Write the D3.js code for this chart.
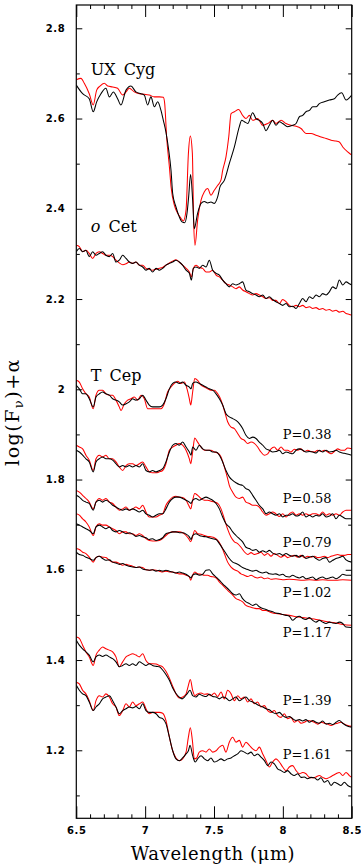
<!DOCTYPE html>
<html><head><meta charset="utf-8">
<script src="https://cdn.jsdelivr.net/npm/d3@7"></script>
<style>body{margin:0;background:#fff}svg{display:block}</style>
</head><body>
<svg id="chart" width="361" height="865"></svg>
<script>
// ---------------- data (wavelength in micron, log(Fnu)+alpha) ----------------
const xMajorTicks = [6.5, 7, 7.5, 8, 8.5];
const xTickLabels = ["6.5", "7", "7.5", "8", "8.5"];
const yMajorTicks = [1.2, 1.4, 1.6, 1.8, 2.0, 2.2, 2.4, 2.6, 2.8];
const yTickLabels = ["1.2", "1.4", "1.6", "1.8", "2", "2.2", "2.4", "2.6", "2.8"];
const starNames = ["UX Cyg", "o Cet", "T Cep"];
const phaseLabels = ["P=0.38", "P=0.58", "P=0.79", "P=1.02", "P=1.17", "P=1.39", "P=1.61"];

const uxCygBlack = [[6.500,2.674],[6.546,2.655],[6.594,2.644],[6.623,2.615],[6.648,2.637],[6.679,2.655],[6.715,2.667],[6.740,2.648],[6.769,2.659],[6.800,2.644],[6.824,2.630],[6.861,2.663],[6.897,2.672],[6.933,2.659],[6.970,2.655],[6.994,2.652],[7.018,2.630],[7.042,2.648],[7.067,2.626],[7.091,2.637],[7.115,2.618],[7.132,2.596],[7.151,2.570],[7.171,2.530],[7.188,2.485],[7.200,2.434],[7.224,2.404],[7.248,2.382],[7.268,2.371],[7.287,2.369],[7.304,2.390],[7.316,2.427],[7.330,2.476],[7.345,2.419],[7.357,2.356],[7.381,2.390],[7.406,2.412],[7.430,2.416],[7.454,2.413],[7.478,2.415],[7.502,2.412],[7.527,2.427],[7.544,2.449],[7.575,2.463],[7.611,2.500],[7.648,2.537],[7.684,2.582],[7.701,2.596],[7.720,2.593],[7.745,2.589],[7.781,2.613],[7.805,2.600],[7.829,2.596],[7.854,2.589],[7.878,2.573],[7.902,2.585],[7.926,2.596],[7.950,2.585],[7.975,2.593],[7.999,2.589],[8.035,2.582],[8.071,2.585],[8.096,2.589],[8.120,2.604],[8.144,2.607],[8.168,2.615],[8.193,2.618],[8.217,2.626],[8.241,2.626],[8.265,2.633],[8.301,2.637],[8.338,2.641],[8.374,2.644],[8.398,2.652],[8.427,2.657],[8.459,2.641],[8.500,2.652]];
const uxCygRed = [[6.500,2.686],[6.534,2.689],[6.558,2.678],[6.594,2.655],[6.623,2.630],[6.648,2.663],[6.672,2.672],[6.703,2.678],[6.728,2.672],[6.764,2.670],[6.800,2.667],[6.837,2.652],[6.861,2.659],[6.885,2.667],[6.921,2.659],[6.958,2.655],[6.994,2.654],[7.030,2.652],[7.067,2.648],[7.103,2.648],[7.132,2.647],[7.142,2.633],[7.156,2.559],[7.176,2.493],[7.188,2.449],[7.212,2.408],[7.236,2.390],[7.260,2.379],[7.277,2.373],[7.297,2.397],[7.314,2.522],[7.328,2.561],[7.343,2.522],[7.352,2.375],[7.362,2.319],[7.381,2.375],[7.406,2.419],[7.430,2.438],[7.454,2.445],[7.478,2.430],[7.502,2.441],[7.527,2.452],[7.551,2.464],[7.563,2.485],[7.587,2.515],[7.607,2.559],[7.624,2.611],[7.648,2.615],[7.679,2.620],[7.708,2.607],[7.732,2.600],[7.757,2.607],[7.781,2.596],[7.817,2.600],[7.854,2.585],[7.890,2.589],[7.926,2.596],[7.950,2.589],[7.987,2.596],[8.023,2.589],[8.059,2.585],[8.096,2.583],[8.132,2.578],[8.168,2.567],[8.205,2.567],[8.241,2.563],[8.277,2.559],[8.314,2.556],[8.350,2.552],[8.386,2.550],[8.410,2.548],[8.435,2.537],[8.471,2.526],[8.500,2.519]];

const oCetBlack = [[6.500,2.305],[6.522,2.312],[6.546,2.305],[6.570,2.308],[6.594,2.294],[6.619,2.305],[6.643,2.297],[6.667,2.301],[6.691,2.305],[6.715,2.297],[6.740,2.294],[6.764,2.301],[6.788,2.282],[6.812,2.286],[6.837,2.297],[6.861,2.290],[6.885,2.282],[6.909,2.279],[6.933,2.282],[6.958,2.275],[6.982,2.271],[7.006,2.264],[7.030,2.268],[7.054,2.260],[7.079,2.268],[7.103,2.264],[7.127,2.268],[7.151,2.275],[7.176,2.279],[7.200,2.282],[7.224,2.286],[7.248,2.282],[7.272,2.275],[7.297,2.264],[7.321,2.257],[7.336,2.242],[7.350,2.268],[7.369,2.271],[7.393,2.268],[7.418,2.275],[7.442,2.271],[7.466,2.286],[7.490,2.264],[7.515,2.257],[7.539,2.253],[7.563,2.242],[7.587,2.234],[7.611,2.227],[7.636,2.234],[7.660,2.231],[7.684,2.234],[7.708,2.238],[7.732,2.220],[7.757,2.216],[7.781,2.212],[7.805,2.209],[7.829,2.205],[7.854,2.209],[7.878,2.201],[7.902,2.205],[7.926,2.199],[7.950,2.194],[7.975,2.190],[7.999,2.186],[8.023,2.190],[8.047,2.183],[8.071,2.184],[8.096,2.179],[8.120,2.190],[8.144,2.201],[8.168,2.194],[8.193,2.205],[8.217,2.201],[8.241,2.209],[8.265,2.205],[8.289,2.212],[8.314,2.209],[8.338,2.216],[8.362,2.227],[8.386,2.223],[8.410,2.242],[8.435,2.231],[8.459,2.238],[8.483,2.234],[8.500,2.231]];
const oCetRed = [[6.500,2.319],[6.522,2.316],[6.546,2.305],[6.570,2.308],[6.594,2.301],[6.619,2.290],[6.643,2.301],[6.667,2.305],[6.691,2.301],[6.715,2.297],[6.740,2.297],[6.764,2.294],[6.788,2.286],[6.812,2.280],[6.837,2.276],[6.861,2.278],[6.885,2.282],[6.909,2.279],[6.933,2.282],[6.958,2.275],[6.982,2.275],[7.006,2.268],[7.030,2.266],[7.054,2.264],[7.079,2.266],[7.103,2.268],[7.127,2.270],[7.151,2.275],[7.176,2.280],[7.200,2.284],[7.224,2.287],[7.248,2.282],[7.272,2.275],[7.297,2.268],[7.321,2.260],[7.336,2.249],[7.350,2.268],[7.369,2.275],[7.393,2.270],[7.418,2.268],[7.442,2.260],[7.466,2.260],[7.490,2.264],[7.515,2.253],[7.539,2.249],[7.563,2.242],[7.587,2.234],[7.611,2.231],[7.636,2.227],[7.660,2.223],[7.684,2.227],[7.708,2.220],[7.732,2.216],[7.757,2.212],[7.781,2.209],[7.805,2.212],[7.829,2.209],[7.854,2.205],[7.878,2.201],[7.902,2.203],[7.926,2.197],[7.950,2.197],[7.975,2.190],[7.999,2.199],[8.023,2.194],[8.047,2.186],[8.071,2.183],[8.096,2.186],[8.120,2.183],[8.144,2.186],[8.168,2.181],[8.193,2.183],[8.217,2.179],[8.241,2.181],[8.265,2.177],[8.289,2.179],[8.314,2.175],[8.338,2.177],[8.362,2.173],[8.386,2.175],[8.410,2.171],[8.435,2.173],[8.459,2.168],[8.483,2.166],[8.500,2.164]];

const tCep038Black = [[6.500,2.009],[6.522,2.001],[6.546,1.990],[6.570,1.990],[6.594,1.979],[6.623,1.961],[6.643,1.983],[6.667,1.990],[6.691,1.994],[6.715,1.990],[6.740,1.987],[6.764,1.979],[6.788,1.976],[6.812,1.972],[6.837,1.965],[6.861,1.968],[6.885,1.972],[6.909,1.979],[6.933,1.976],[6.958,1.979],[6.982,1.987],[7.006,1.976],[7.030,1.965],[7.054,1.961],[7.079,1.961],[7.103,1.961],[7.127,1.965],[7.151,1.979],[7.176,2.001],[7.200,2.013],[7.224,2.016],[7.248,2.013],[7.272,2.016],[7.297,2.009],[7.321,2.005],[7.333,2.001],[7.345,2.013],[7.369,2.016],[7.393,2.013],[7.418,2.009],[7.442,2.005],[7.466,2.001],[7.490,1.998],[7.515,1.990],[7.539,1.979],[7.563,1.965],[7.587,1.946],[7.611,1.939],[7.636,1.935],[7.660,1.931],[7.684,1.924],[7.708,1.913],[7.732,1.898],[7.757,1.891],[7.781,1.894],[7.805,1.891],[7.829,1.883],[7.854,1.876],[7.878,1.868],[7.902,1.865],[7.926,1.861],[7.950,1.862],[7.975,1.865],[7.999,1.857],[8.023,1.861],[8.047,1.859],[8.071,1.857],[8.096,1.865],[8.120,1.868],[8.144,1.865],[8.168,1.861],[8.193,1.862],[8.217,1.861],[8.241,1.859],[8.265,1.865],[8.289,1.861],[8.314,1.865],[8.338,1.861],[8.362,1.862],[8.386,1.865],[8.410,1.861],[8.435,1.859],[8.459,1.857],[8.500,1.854]];
const tCep038Red = [[6.500,2.020],[6.522,2.016],[6.546,2.001],[6.570,1.990],[6.594,1.983],[6.623,1.957],[6.643,1.987],[6.667,1.998],[6.691,1.998],[6.715,1.990],[6.740,1.987],[6.764,1.987],[6.788,1.976],[6.812,1.961],[6.824,1.953],[6.849,1.968],[6.873,1.976],[6.897,1.979],[6.921,1.983],[6.946,1.976],[6.970,1.987],[6.994,1.979],[7.018,1.957],[7.042,1.957],[7.067,1.957],[7.091,1.957],[7.115,1.957],[7.139,1.968],[7.163,1.994],[7.188,2.005],[7.212,2.013],[7.236,2.018],[7.260,2.013],[7.285,2.016],[7.304,2.001],[7.321,1.979],[7.331,1.965],[7.345,1.994],[7.360,2.024],[7.381,2.020],[7.406,2.009],[7.430,2.005],[7.454,2.001],[7.478,1.998],[7.502,1.998],[7.527,1.990],[7.551,1.976],[7.575,1.953],[7.599,1.928],[7.624,1.916],[7.648,1.913],[7.672,1.902],[7.696,1.891],[7.720,1.887],[7.745,1.880],[7.769,1.883],[7.793,1.880],[7.817,1.872],[7.841,1.861],[7.866,1.854],[7.890,1.857],[7.914,1.868],[7.938,1.872],[7.962,1.865],[7.987,1.872],[8.011,1.865],[8.035,1.865],[8.059,1.861],[8.083,1.867],[8.108,1.865],[8.132,1.868],[8.156,1.862],[8.180,1.865],[8.205,1.862],[8.229,1.861],[8.253,1.865],[8.277,1.862],[8.301,1.865],[8.326,1.861],[8.350,1.857],[8.374,1.862],[8.398,1.868],[8.422,1.865],[8.447,1.865],[8.471,1.870],[8.500,1.868]];

const tCep058Black = [[6.500,1.865],[6.522,1.861],[6.546,1.854],[6.570,1.846],[6.594,1.839],[6.623,1.817],[6.643,1.839],[6.667,1.846],[6.691,1.850],[6.715,1.846],[6.740,1.846],[6.764,1.843],[6.788,1.835],[6.812,1.828],[6.837,1.831],[6.861,1.828],[6.885,1.831],[6.909,1.828],[6.933,1.831],[6.958,1.828],[6.982,1.835],[7.006,1.820],[7.030,1.817],[7.054,1.820],[7.079,1.817],[7.103,1.820],[7.127,1.824],[7.151,1.839],[7.176,1.861],[7.200,1.876],[7.224,1.880],[7.248,1.876],[7.272,1.883],[7.297,1.872],[7.321,1.861],[7.333,1.854],[7.345,1.872],[7.369,1.865],[7.393,1.876],[7.418,1.868],[7.442,1.865],[7.466,1.865],[7.490,1.861],[7.515,1.861],[7.539,1.854],[7.563,1.839],[7.587,1.820],[7.611,1.806],[7.636,1.798],[7.660,1.793],[7.684,1.789],[7.708,1.787],[7.732,1.780],[7.757,1.776],[7.781,1.765],[7.805,1.754],[7.829,1.743],[7.854,1.735],[7.878,1.724],[7.902,1.728],[7.926,1.724],[7.950,1.721],[7.975,1.724],[7.999,1.717],[8.023,1.721],[8.047,1.721],[8.071,1.724],[8.096,1.719],[8.120,1.721],[8.144,1.728],[8.168,1.717],[8.193,1.721],[8.217,1.717],[8.241,1.721],[8.265,1.719],[8.289,1.724],[8.314,1.717],[8.338,1.719],[8.362,1.724],[8.386,1.713],[8.410,1.721],[8.435,1.717],[8.459,1.713],[8.500,1.713]];
const tCep058Red = [[6.500,1.876],[6.522,1.872],[6.546,1.868],[6.570,1.854],[6.594,1.843],[6.623,1.820],[6.643,1.846],[6.667,1.854],[6.691,1.850],[6.715,1.854],[6.740,1.846],[6.764,1.846],[6.788,1.839],[6.812,1.828],[6.837,1.820],[6.861,1.831],[6.885,1.835],[6.909,1.835],[6.933,1.831],[6.958,1.835],[6.982,1.839],[7.006,1.828],[7.030,1.817],[7.054,1.815],[7.079,1.815],[7.103,1.817],[7.127,1.820],[7.151,1.835],[7.176,1.865],[7.200,1.872],[7.224,1.876],[7.248,1.880],[7.272,1.876],[7.297,1.865],[7.321,1.846],[7.331,1.835],[7.345,1.861],[7.360,1.892],[7.381,1.883],[7.406,1.872],[7.430,1.865],[7.454,1.865],[7.478,1.865],[7.502,1.861],[7.527,1.859],[7.551,1.850],[7.575,1.828],[7.599,1.802],[7.611,1.787],[7.636,1.772],[7.660,1.761],[7.684,1.758],[7.708,1.761],[7.732,1.750],[7.757,1.747],[7.781,1.743],[7.805,1.743],[7.829,1.739],[7.854,1.728],[7.878,1.721],[7.902,1.724],[7.926,1.728],[7.950,1.724],[7.975,1.718],[7.999,1.724],[8.023,1.717],[8.047,1.724],[8.071,1.728],[8.096,1.721],[8.120,1.724],[8.144,1.721],[8.168,1.724],[8.193,1.721],[8.217,1.724],[8.241,1.724],[8.265,1.721],[8.289,1.728],[8.314,1.721],[8.338,1.724],[8.362,1.721],[8.386,1.724],[8.410,1.721],[8.435,1.728],[8.459,1.732],[8.500,1.732]];

const tCep079Black = [[6.500,1.765],[6.522,1.761],[6.546,1.754],[6.570,1.750],[6.594,1.747],[6.623,1.732],[6.643,1.750],[6.667,1.754],[6.691,1.750],[6.715,1.754],[6.740,1.750],[6.764,1.743],[6.788,1.739],[6.812,1.735],[6.837,1.732],[6.861,1.735],[6.885,1.732],[6.909,1.735],[6.933,1.732],[6.958,1.728],[6.982,1.732],[7.006,1.724],[7.030,1.721],[7.054,1.717],[7.079,1.721],[7.103,1.724],[7.127,1.724],[7.151,1.735],[7.176,1.750],[7.200,1.758],[7.224,1.761],[7.248,1.761],[7.272,1.758],[7.297,1.754],[7.321,1.750],[7.333,1.747],[7.345,1.754],[7.369,1.758],[7.393,1.754],[7.418,1.758],[7.442,1.761],[7.466,1.758],[7.490,1.754],[7.515,1.747],[7.539,1.735],[7.563,1.717],[7.587,1.702],[7.611,1.695],[7.636,1.684],[7.660,1.676],[7.684,1.669],[7.708,1.662],[7.732,1.650],[7.757,1.647],[7.781,1.643],[7.805,1.645],[7.829,1.639],[7.854,1.642],[7.878,1.639],[7.902,1.643],[7.926,1.637],[7.950,1.634],[7.975,1.636],[7.999,1.632],[8.023,1.636],[8.047,1.632],[8.071,1.630],[8.096,1.632],[8.120,1.628],[8.144,1.632],[8.168,1.625],[8.193,1.628],[8.217,1.630],[8.241,1.625],[8.265,1.621],[8.289,1.625],[8.314,1.627],[8.338,1.617],[8.362,1.621],[8.386,1.625],[8.410,1.627],[8.435,1.630],[8.459,1.622],[8.500,1.617]];
const tCep079Red = [[6.500,1.776],[6.522,1.772],[6.546,1.765],[6.570,1.758],[6.594,1.750],[6.623,1.735],[6.643,1.750],[6.667,1.758],[6.691,1.754],[6.715,1.758],[6.740,1.750],[6.764,1.747],[6.788,1.739],[6.812,1.732],[6.837,1.735],[6.861,1.739],[6.885,1.732],[6.909,1.735],[6.933,1.739],[6.958,1.735],[6.982,1.743],[7.006,1.728],[7.030,1.717],[7.054,1.717],[7.079,1.717],[7.103,1.721],[7.127,1.724],[7.151,1.743],[7.176,1.754],[7.200,1.761],[7.224,1.763],[7.248,1.761],[7.272,1.760],[7.297,1.754],[7.316,1.743],[7.331,1.735],[7.345,1.754],[7.360,1.769],[7.381,1.765],[7.406,1.758],[7.430,1.754],[7.454,1.754],[7.478,1.752],[7.502,1.750],[7.527,1.747],[7.551,1.735],[7.575,1.713],[7.599,1.690],[7.624,1.672],[7.648,1.662],[7.672,1.658],[7.696,1.650],[7.720,1.640],[7.745,1.634],[7.769,1.638],[7.793,1.634],[7.817,1.636],[7.841,1.639],[7.866,1.632],[7.890,1.636],[7.914,1.630],[7.938,1.636],[7.962,1.632],[7.987,1.628],[8.011,1.632],[8.035,1.627],[8.059,1.630],[8.083,1.632],[8.108,1.628],[8.132,1.632],[8.156,1.627],[8.180,1.630],[8.205,1.628],[8.229,1.630],[8.253,1.627],[8.277,1.628],[8.301,1.630],[8.326,1.627],[8.350,1.630],[8.374,1.632],[8.398,1.634],[8.422,1.632],[8.447,1.632],[8.471,1.634],[8.500,1.634]];

const tCep102Black = [[6.500,1.702],[6.522,1.699],[6.546,1.695],[6.570,1.691],[6.594,1.687],[6.623,1.680],[6.643,1.695],[6.667,1.699],[6.691,1.695],[6.715,1.691],[6.740,1.695],[6.764,1.687],[6.788,1.684],[6.812,1.687],[6.837,1.684],[6.861,1.680],[6.885,1.682],[6.909,1.679],[6.933,1.674],[6.958,1.676],[6.982,1.673],[7.006,1.671],[7.030,1.667],[7.054,1.669],[7.079,1.665],[7.103,1.667],[7.127,1.671],[7.151,1.680],[7.176,1.682],[7.200,1.684],[7.224,1.684],[7.248,1.682],[7.272,1.682],[7.297,1.679],[7.321,1.673],[7.333,1.667],[7.345,1.676],[7.369,1.680],[7.393,1.676],[7.418,1.674],[7.442,1.673],[7.466,1.671],[7.490,1.669],[7.515,1.667],[7.539,1.658],[7.563,1.647],[7.587,1.636],[7.611,1.625],[7.636,1.617],[7.660,1.614],[7.684,1.610],[7.708,1.605],[7.732,1.602],[7.757,1.599],[7.781,1.597],[7.805,1.599],[7.829,1.595],[7.854,1.593],[7.878,1.595],[7.902,1.591],[7.926,1.590],[7.950,1.591],[7.975,1.588],[7.999,1.590],[8.023,1.585],[8.047,1.584],[8.071,1.588],[8.096,1.584],[8.120,1.582],[8.144,1.585],[8.168,1.580],[8.193,1.582],[8.217,1.584],[8.241,1.578],[8.265,1.582],[8.289,1.584],[8.314,1.580],[8.338,1.582],[8.362,1.584],[8.386,1.580],[8.410,1.584],[8.435,1.590],[8.459,1.588],[8.500,1.588]];
const tCep102Red = [[6.500,1.724],[6.522,1.721],[6.546,1.713],[6.570,1.706],[6.594,1.695],[6.623,1.676],[6.643,1.695],[6.667,1.702],[6.691,1.699],[6.715,1.699],[6.740,1.695],[6.764,1.691],[6.788,1.687],[6.812,1.680],[6.837,1.684],[6.861,1.684],[6.885,1.680],[6.909,1.680],[6.933,1.676],[6.958,1.680],[6.982,1.676],[7.006,1.669],[7.030,1.665],[7.054,1.664],[7.079,1.664],[7.103,1.665],[7.127,1.669],[7.151,1.676],[7.176,1.682],[7.200,1.684],[7.224,1.684],[7.248,1.684],[7.272,1.682],[7.297,1.676],[7.316,1.669],[7.331,1.662],[7.345,1.674],[7.360,1.687],[7.381,1.680],[7.406,1.679],[7.430,1.676],[7.454,1.674],[7.478,1.673],[7.502,1.671],[7.527,1.665],[7.551,1.654],[7.575,1.636],[7.599,1.617],[7.624,1.606],[7.648,1.600],[7.672,1.597],[7.696,1.591],[7.720,1.588],[7.745,1.585],[7.769,1.588],[7.793,1.584],[7.817,1.582],[7.841,1.584],[7.866,1.580],[7.890,1.582],[7.914,1.579],[7.950,1.580],[7.999,1.578],[8.047,1.579],[8.096,1.578],[8.144,1.577],[8.193,1.578],[8.241,1.577],[8.289,1.578],[8.338,1.577],[8.386,1.577],[8.435,1.578],[8.500,1.577]];

const tCep117Black = [[6.500,1.639],[6.522,1.634],[6.546,1.632],[6.570,1.628],[6.594,1.625],[6.623,1.621],[6.643,1.627],[6.667,1.630],[6.691,1.625],[6.715,1.621],[6.740,1.622],[6.764,1.617],[6.788,1.615],[6.812,1.612],[6.837,1.614],[6.861,1.610],[6.885,1.608],[6.909,1.606],[6.933,1.605],[6.958,1.606],[6.982,1.602],[7.006,1.600],[7.030,1.599],[7.054,1.600],[7.079,1.597],[7.103,1.599],[7.127,1.597],[7.151,1.599],[7.176,1.597],[7.200,1.595],[7.224,1.593],[7.248,1.595],[7.272,1.593],[7.297,1.590],[7.321,1.585],[7.333,1.582],[7.345,1.588],[7.369,1.591],[7.393,1.588],[7.418,1.590],[7.442,1.599],[7.466,1.600],[7.490,1.591],[7.515,1.584],[7.539,1.577],[7.563,1.569],[7.587,1.562],[7.611,1.555],[7.636,1.547],[7.660,1.544],[7.684,1.547],[7.708,1.536],[7.732,1.529],[7.757,1.525],[7.781,1.521],[7.805,1.524],[7.829,1.518],[7.854,1.514],[7.878,1.512],[7.902,1.509],[7.926,1.507],[7.950,1.504],[7.975,1.503],[7.999,1.501],[8.023,1.499],[8.047,1.497],[8.071,1.488],[8.096,1.494],[8.120,1.497],[8.144,1.492],[8.168,1.490],[8.193,1.494],[8.217,1.488],[8.241,1.484],[8.265,1.488],[8.289,1.484],[8.314,1.481],[8.338,1.484],[8.362,1.482],[8.386,1.481],[8.410,1.484],[8.435,1.481],[8.459,1.473],[8.500,1.472]];
const tCep117Red = [[6.500,1.647],[6.522,1.645],[6.546,1.639],[6.570,1.636],[6.594,1.628],[6.623,1.617],[6.643,1.627],[6.667,1.630],[6.691,1.628],[6.715,1.627],[6.740,1.621],[6.764,1.617],[6.788,1.617],[6.812,1.614],[6.837,1.610],[6.861,1.612],[6.885,1.610],[6.909,1.608],[6.933,1.605],[6.958,1.606],[6.982,1.605],[7.006,1.600],[7.030,1.599],[7.054,1.600],[7.079,1.599],[7.103,1.597],[7.127,1.595],[7.151,1.597],[7.176,1.595],[7.200,1.595],[7.224,1.593],[7.248,1.591],[7.272,1.591],[7.297,1.588],[7.321,1.584],[7.331,1.577],[7.345,1.588],[7.360,1.595],[7.381,1.591],[7.406,1.590],[7.430,1.588],[7.454,1.588],[7.478,1.585],[7.502,1.584],[7.527,1.578],[7.539,1.573],[7.563,1.566],[7.587,1.558],[7.611,1.551],[7.636,1.544],[7.660,1.536],[7.684,1.533],[7.708,1.529],[7.732,1.521],[7.757,1.518],[7.781,1.516],[7.805,1.514],[7.829,1.514],[7.854,1.510],[7.878,1.510],[7.902,1.507],[7.926,1.504],[7.950,1.503],[7.999,1.501],[8.047,1.499],[8.096,1.496],[8.144,1.494],[8.193,1.492],[8.241,1.490],[8.289,1.487],[8.338,1.484],[8.386,1.482],[8.435,1.479],[8.500,1.477]];

const tCep139Black = [[6.500,1.444],[6.522,1.433],[6.546,1.425],[6.570,1.418],[6.594,1.411],[6.623,1.396],[6.643,1.407],[6.667,1.411],[6.691,1.408],[6.715,1.411],[6.740,1.407],[6.764,1.403],[6.788,1.396],[6.812,1.385],[6.837,1.388],[6.861,1.392],[6.885,1.388],[6.909,1.392],[6.933,1.388],[6.958,1.396],[6.982,1.392],[7.006,1.388],[7.030,1.392],[7.054,1.388],[7.079,1.386],[7.103,1.385],[7.127,1.378],[7.151,1.368],[7.176,1.355],[7.200,1.338],[7.224,1.326],[7.248,1.318],[7.268,1.314],[7.285,1.318],[7.304,1.325],[7.326,1.333],[7.345,1.321],[7.369,1.318],[7.393,1.324],[7.418,1.321],[7.442,1.319],[7.466,1.324],[7.490,1.319],[7.515,1.318],[7.539,1.314],[7.563,1.318],[7.587,1.316],[7.611,1.310],[7.636,1.314],[7.660,1.318],[7.684,1.310],[7.708,1.314],[7.732,1.318],[7.757,1.310],[7.781,1.307],[7.805,1.303],[7.829,1.299],[7.854,1.296],[7.878,1.292],[7.902,1.290],[7.926,1.284],[7.950,1.281],[7.975,1.284],[7.999,1.277],[8.023,1.273],[8.047,1.275],[8.071,1.270],[8.096,1.266],[8.120,1.268],[8.144,1.265],[8.168,1.268],[8.193,1.262],[8.217,1.266],[8.241,1.262],[8.265,1.260],[8.289,1.265],[8.314,1.258],[8.338,1.260],[8.362,1.257],[8.386,1.262],[8.410,1.266],[8.435,1.260],[8.459,1.255],[8.500,1.251]];
const tCep139Red = [[6.500,1.451],[6.522,1.448],[6.546,1.433],[6.570,1.418],[6.594,1.407],[6.623,1.388],[6.643,1.411],[6.667,1.422],[6.691,1.429],[6.715,1.425],[6.740,1.422],[6.764,1.418],[6.788,1.407],[6.812,1.385],[6.837,1.396],[6.861,1.407],[6.885,1.411],[6.909,1.414],[6.933,1.411],[6.958,1.407],[6.982,1.414],[7.006,1.399],[7.030,1.392],[7.054,1.392],[7.079,1.391],[7.103,1.388],[7.127,1.385],[7.151,1.375],[7.176,1.360],[7.200,1.342],[7.224,1.325],[7.248,1.316],[7.272,1.318],[7.297,1.325],[7.314,1.344],[7.328,1.357],[7.345,1.333],[7.362,1.321],[7.381,1.325],[7.406,1.327],[7.430,1.324],[7.454,1.325],[7.478,1.321],[7.502,1.327],[7.527,1.319],[7.551,1.329],[7.575,1.314],[7.599,1.333],[7.624,1.325],[7.648,1.310],[7.672,1.321],[7.696,1.314],[7.720,1.318],[7.745,1.307],[7.769,1.314],[7.793,1.303],[7.817,1.307],[7.841,1.296],[7.866,1.299],[7.890,1.288],[7.914,1.284],[7.938,1.288],[7.962,1.277],[7.987,1.273],[8.011,1.281],[8.035,1.270],[8.059,1.273],[8.083,1.262],[8.108,1.266],[8.132,1.260],[8.156,1.262],[8.180,1.266],[8.205,1.265],[8.229,1.262],[8.253,1.258],[8.277,1.262],[8.301,1.260],[8.326,1.258],[8.350,1.255],[8.374,1.258],[8.398,1.260],[8.422,1.262],[8.447,1.258],[8.471,1.255],[8.500,1.253]];

const tCep161Black = [[6.500,1.344],[6.522,1.333],[6.546,1.325],[6.570,1.321],[6.594,1.307],[6.623,1.288],[6.643,1.296],[6.667,1.303],[6.691,1.314],[6.715,1.318],[6.740,1.321],[6.764,1.310],[6.788,1.296],[6.812,1.281],[6.837,1.288],[6.861,1.292],[6.885,1.296],[6.909,1.294],[6.933,1.297],[6.958,1.292],[6.982,1.303],[7.006,1.288],[7.030,1.284],[7.054,1.284],[7.079,1.281],[7.103,1.273],[7.127,1.270],[7.151,1.259],[7.176,1.229],[7.200,1.199],[7.224,1.181],[7.248,1.177],[7.272,1.183],[7.297,1.192],[7.314,1.199],[7.326,1.211],[7.345,1.188],[7.364,1.174],[7.381,1.181],[7.406,1.188],[7.430,1.181],[7.454,1.177],[7.478,1.183],[7.502,1.174],[7.527,1.177],[7.551,1.181],[7.575,1.177],[7.599,1.181],[7.624,1.183],[7.648,1.188],[7.672,1.192],[7.696,1.199],[7.720,1.196],[7.745,1.192],[7.769,1.196],[7.793,1.188],[7.817,1.192],[7.841,1.185],[7.866,1.177],[7.890,1.166],[7.914,1.174],[7.938,1.170],[7.962,1.159],[7.987,1.155],[8.011,1.151],[8.035,1.155],[8.059,1.148],[8.083,1.144],[8.108,1.148],[8.132,1.140],[8.156,1.141],[8.180,1.137],[8.205,1.140],[8.229,1.139],[8.253,1.134],[8.277,1.139],[8.301,1.129],[8.326,1.133],[8.350,1.122],[8.374,1.129],[8.398,1.126],[8.422,1.122],[8.447,1.129],[8.471,1.122],[8.500,1.118]];
const tCep161Red = [[6.500,1.351],[6.522,1.347],[6.546,1.333],[6.570,1.325],[6.594,1.310],[6.623,1.288],[6.643,1.310],[6.667,1.321],[6.691,1.318],[6.715,1.325],[6.740,1.318],[6.764,1.303],[6.788,1.296],[6.812,1.277],[6.837,1.288],[6.861,1.303],[6.885,1.296],[6.909,1.307],[6.933,1.299],[6.958,1.303],[6.982,1.307],[7.006,1.292],[7.030,1.281],[7.054,1.284],[7.079,1.284],[7.103,1.284],[7.127,1.282],[7.151,1.266],[7.176,1.229],[7.200,1.199],[7.224,1.183],[7.248,1.177],[7.272,1.181],[7.297,1.196],[7.314,1.229],[7.328,1.250],[7.343,1.222],[7.357,1.181],[7.374,1.183],[7.393,1.196],[7.418,1.199],[7.442,1.196],[7.466,1.203],[7.490,1.196],[7.515,1.199],[7.539,1.207],[7.563,1.211],[7.587,1.196],[7.611,1.218],[7.636,1.229],[7.660,1.218],[7.684,1.222],[7.708,1.207],[7.732,1.218],[7.757,1.211],[7.781,1.203],[7.805,1.199],[7.829,1.207],[7.854,1.192],[7.878,1.177],[7.902,1.163],[7.926,1.174],[7.950,1.181],[7.975,1.174],[7.999,1.163],[8.023,1.155],[8.047,1.163],[8.071,1.166],[8.096,1.155],[8.120,1.148],[8.144,1.151],[8.168,1.148],[8.193,1.140],[8.217,1.139],[8.241,1.141],[8.265,1.144],[8.289,1.140],[8.314,1.137],[8.338,1.140],[8.362,1.144],[8.386,1.148],[8.410,1.151],[8.435,1.144],[8.459,1.151],[8.483,1.144],[8.500,1.140]];

// ---------------- drawing ----------------
const svg = d3.select("#chart");
const PX = {left: 76.3, right: 351.7, top: 5, bottom: 818.3};
const x = d3.scaleLinear().domain([6.5, 8.5]).range([PX.left, PX.right]);
const y = d3.scaleLinear().domain([1.0493, 2.8516]).range([PX.bottom, PX.top]);

const xMinor = d3.range(66, 85).map(d => d / 10).filter(v => !xMajorTicks.some(m => Math.abs(m - v) < 1e-6));
const yMinor = d3.range(11, 29).map(d => d / 10).filter(v => !yMajorTicks.some(m => Math.abs(m - v) < 1e-6));

svg.append("defs").append("clipPath").attr("id", "plotclip")
  .append("rect").attr("x", PX.left).attr("y", PX.top)
  .attr("width", PX.right - PX.left).attr("height", PX.bottom - PX.top);

const tickFont = g => g.selectAll("text")
  .style("font-family", "'DejaVu Sans', sans-serif").style("font-weight", "bold")
  .style("font-size", "10px").style("letter-spacing", "0.6px").attr("fill", "#000");

function addAxis(gen, tx, ty, labels) {
  const g = svg.append("g").attr("transform", `translate(${tx},${ty})`).call(gen);
  g.select(".domain").remove();
  g.selectAll(".tick line").attr("stroke", "#000").attr("stroke-width", 1);
  if (labels) tickFont(g); else g.selectAll("text").remove();
  return g;
}
const xTickFmt = d => xTickLabels[xMajorTicks.indexOf(d)];
const yTickFmt = d => yTickLabels[yMajorTicks.findIndex(m => Math.abs(m - d) < 1e-9)];

addAxis(d3.axisBottom(x).tickValues(xMajorTicks).tickSize(-12).tickPadding(9).tickFormat(xTickFmt), 0, PX.bottom, true);
addAxis(d3.axisBottom(x).tickValues(xMinor).tickSize(-4), 0, PX.bottom, false);
addAxis(d3.axisTop(x).tickValues(xMajorTicks).tickSize(-12), 0, PX.top, false);
addAxis(d3.axisTop(x).tickValues(xMinor).tickSize(-4), 0, PX.top, false);
addAxis(d3.axisLeft(y).tickValues(yMajorTicks).tickSize(-6).tickPadding(11).tickFormat(yTickFmt), PX.left, 0, true);
addAxis(d3.axisLeft(y).tickValues(yMinor).tickSize(-3.5), PX.left, 0, false);
addAxis(d3.axisRight(y).tickValues(yMajorTicks).tickSize(-6), PX.right, 0, false);
addAxis(d3.axisRight(y).tickValues(yMinor).tickSize(-3.5), PX.right, 0, false);

// spectra
const series = [
  [uxCygRed, "#ff0000"], [uxCygBlack, "#000000"],
  [oCetRed, "#ff0000"], [oCetBlack, "#000000"],
  [tCep038Red, "#ff0000"], [tCep038Black, "#000000"],
  [tCep058Red, "#ff0000"], [tCep058Black, "#000000"],
  [tCep079Red, "#ff0000"], [tCep079Black, "#000000"],
  [tCep102Red, "#ff0000"], [tCep102Black, "#000000"],
  [tCep117Red, "#ff0000"], [tCep117Black, "#000000"],
  [tCep139Red, "#ff0000"], [tCep139Black, "#000000"],
  [tCep161Red, "#ff0000"], [tCep161Black, "#000000"]
];
const line = d3.line().x(d => x(d[0])).y(d => y(d[1])).curve(d3.curveMonotoneX);
const lines = svg.append("g").attr("clip-path", "url(#plotclip)");
series.forEach(([data, color]) => {
  lines.append("path").attr("d", line(data)).attr("fill", "none")
    .attr("stroke", color).attr("stroke-width", 1.05).attr("stroke-linejoin", "round");
});

// frame
svg.append("rect").attr("x", PX.left).attr("y", PX.top)
  .attr("width", PX.right - PX.left).attr("height", PX.bottom - PX.top)
  .attr("fill", "none").attr("stroke", "#000").attr("stroke-width", 1.2);

// annotations
const serif = "'DejaVu Serif', serif";
const starPos = [[6.605, 2.697], [6.605, 2.349], [6.605, 2.019]];
starNames.forEach((name, i) => {
  const t = svg.append("text").attr("x", x(starPos[i][0])).attr("y", y(starPos[i][1]))
    .style("font-family", serif).style("font-size", "16px").style("word-spacing", "3px").attr("fill", "#000");
  if (name.startsWith("o ")) {
    t.append("tspan").style("font-style", "italic").text("o");
    t.append("tspan").text(" " + name.slice(2));
  } else t.text(name);
});
const phaseY = [1.889, 1.749, 1.650, 1.540, 1.450, 1.300, 1.180];
phaseLabels.forEach((lab, i) => {
  svg.append("text").attr("x", x(8.0)).attr("y", y(phaseY[i]))
    .style("font-family", serif).style("font-size", "13px").attr("fill", "#000").text(lab);
});

// axis titles
svg.append("text").attr("x", (PX.left + PX.right) / 2 - 1).attr("y", 860).attr("text-anchor", "middle")
  .style("font-family", serif).style("font-size", "18px").style("letter-spacing", "0.6px").attr("fill", "#000")
  .text("Wavelength (\u03BCm)");
const yt = svg.append("text").attr("transform", "translate(19,412) rotate(-90)").attr("text-anchor", "middle")
  .style("font-family", serif).style("font-size", "19px").style("letter-spacing", "1.5px").attr("fill", "#000");
yt.append("tspan").text("log(F");
yt.append("tspan").attr("dy", 4).style("font-size", "13px").text("\u03BD");
yt.append("tspan").attr("dy", -4).text(")+\u03B1");
</script>
</body></html>
